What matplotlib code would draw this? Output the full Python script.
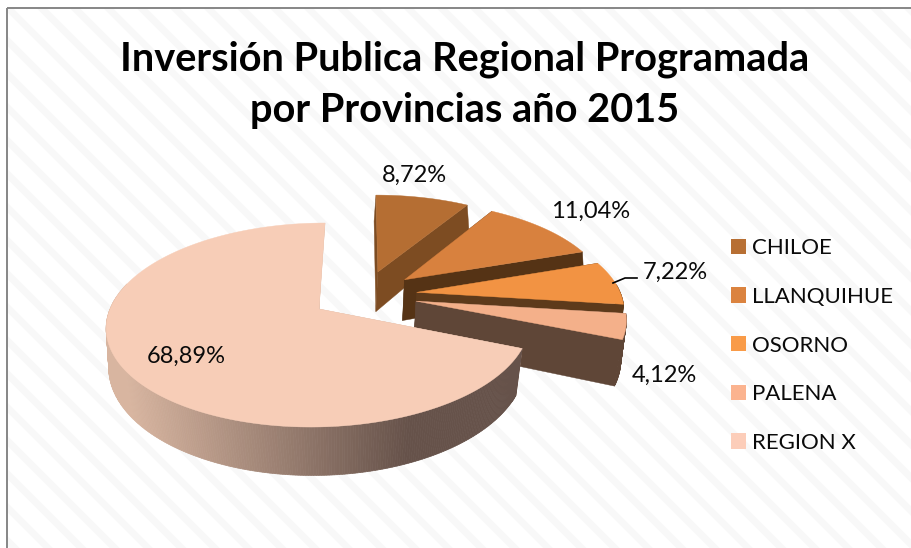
import numpy as np
import matplotlib
matplotlib.use("Agg")
import matplotlib.pyplot as plt
from matplotlib.patches import Polygon, Rectangle, Patch
from matplotlib.colors import to_rgb

# --- data ---
categories = ["CHILOE", "LLANQUIHUE", "OSORNO", "PALENA", "REGION X"]
shares = [8.72, 11.04, 7.22, 4.12, 68.89]
title_text = "Inversión Publica Regional Programada\npor Provincias año 2015"

# --- styles ---
top_colors = ["#b56e33", "#d8813e", "#f29343", "#f4b08a", "#f7cdb7"]
legend_colors = ["#b76f33", "#db833f", "#f99b48", "#fbb38f", "#fccdb9"]
face_colors = ["#7d4c22", "#553315", "#5d3a1b", "#5f4637", "#d8b5a0"]
wall_light = ["#7d4c22", "#553315", "#5d3a1b", "#5f4637", "#d8b5a0"]
wall_dark = ["#7d4c22", "#553315", "#5d3a1b", "#5f4637", "#66524a"]
label_pos = [(414, 175), (591, 211), (675, 272), (664, 375), (186, 356)]

plt.rcParams["font.family"] = ["Lato", "DejaVu Sans"]
plt.rcParams["hatch.linewidth"] = 5

# perspective parameters of the top and bottom planes of the pie
TOP = dict(cx=319, cy=309, rx=209, ry=99.5, p=0.157, shear=0.07)
BOT = dict(cx=317.5, cy=353, rx=207, ry=109, p=0.11, shear=0.04)
EXPLODE = 0.26


def project(X, Y, g):
    w = 1 + g["p"] * Y
    v = -g["ry"] * Y / w
    return g["cx"] + g["rx"] * X / w - g["shear"] * v, g["cy"] + v


fig = plt.figure(figsize=(9.11, 5.48), dpi=100, facecolor="white")
ax = fig.add_axes([0, 0, 1, 1])
ax.set_xlim(0, 911)
ax.set_ylim(548, 0)
ax.axis("off")

ax.add_patch(Rectangle((6.5, 8), 920, 560, facecolor="white", edgecolor="#f8f8f8",
                       hatch="\\", lw=0, zorder=0))
ax.plot([6.5, 6.5], [560, 8], color="#868686", lw=1.4, zorder=0.5, solid_capstyle="butt")
ax.plot([6.5, 920], [8, 8], color="#868686", lw=1.4, zorder=0.5, solid_capstyle="butt")

vals = np.array(shares, dtype=float)
edges = np.concatenate([[0], np.cumsum(vals) / vals.sum() * 2 * np.pi])
mids = (edges[:-1] + edges[1:]) / 2
# plane origin is the apex of the last slice
ox, oy = -EXPLODE * np.sin(mids[-1]), -EXPLODE * np.cos(mids[-1])

z = 1
for i in range(len(vals)):
    ax_x = ox + EXPLODE * np.sin(mids[i])
    ax_y = oy + EXPLODE * np.cos(mids[i])
    th = np.linspace(edges[i], edges[i + 1], max(8, int((edges[i + 1] - edges[i]) * 90)))
    X = ax_x + np.sin(th)
    Y = ax_y + np.cos(th)
    tx, ty = project(X, Y, TOP)
    bx, by = project(X, Y, BOT)
    atx, aty = project(ax_x, ax_y, TOP)
    abx, aby = project(ax_x, ax_y, BOT)

    # radial faces
    for k in (0, -1):
        ax.add_patch(Polygon([(atx, aty), (tx[k], ty[k]), (bx[k], by[k]), (abx, aby)],
                             closed=True, facecolor=face_colors[i], edgecolor=face_colors[i],
                             lw=0.3, zorder=z))
    # curved wall
    c0, c1 = np.array(to_rgb(wall_light[i])), np.array(to_rgb(wall_dark[i]))
    for k in range(len(th) - 1):
        m = (th[k] + th[k + 1]) / 2
        if np.deg2rad(85) < m < np.deg2rad(285):
            f = np.clip((tx[k] - 125) / 285, 0, 1)
            col = c0 + (c1 - c0) * f
            ax.add_patch(Polygon([(tx[k], ty[k]), (tx[k + 1], ty[k + 1]),
                                  (bx[k + 1], by[k + 1]), (bx[k], by[k])],
                                 closed=True, facecolor=col, edgecolor=col, lw=0.5, zorder=z + 0.1))
    # top face
    ax.add_patch(Polygon(np.column_stack([np.r_[atx, tx], np.r_[aty, ty]]), closed=True,
                         facecolor=top_colors[i], edgecolor=top_colors[i], lw=0.3, zorder=z + 0.2))
    z += 1

for s, (lx, ly) in zip(shares, label_pos):
    ax.text(lx, ly, f"{s:.2f}%".replace(".", ","), ha="center", va="center",
            fontsize=17, color="#0a0a0a", zorder=20)
ax.plot([613, 625, 637], [283, 278, 278], color="black", lw=1.2, zorder=20)

ax.text(465, 85, title_text, ha="center", va="center", fontsize=28.6, fontweight="bold",
        color="black", linespacing=1.45, zorder=20)

handles = [Patch(facecolor=c, edgecolor=c, lw=0) for c in legend_colors]
leg = ax.legend(handles, categories, loc="center left", bbox_to_anchor=(0.802, 0.3695),
                frameon=False, fontsize=16, handlelength=0.67, handleheight=0.67,
                handletextpad=0.3, labelspacing=1.29, borderpad=0, borderaxespad=0)
for t in leg.get_texts():
    t.set_color("#0a0a0a")

fig.savefig("out.png", dpi=100)
